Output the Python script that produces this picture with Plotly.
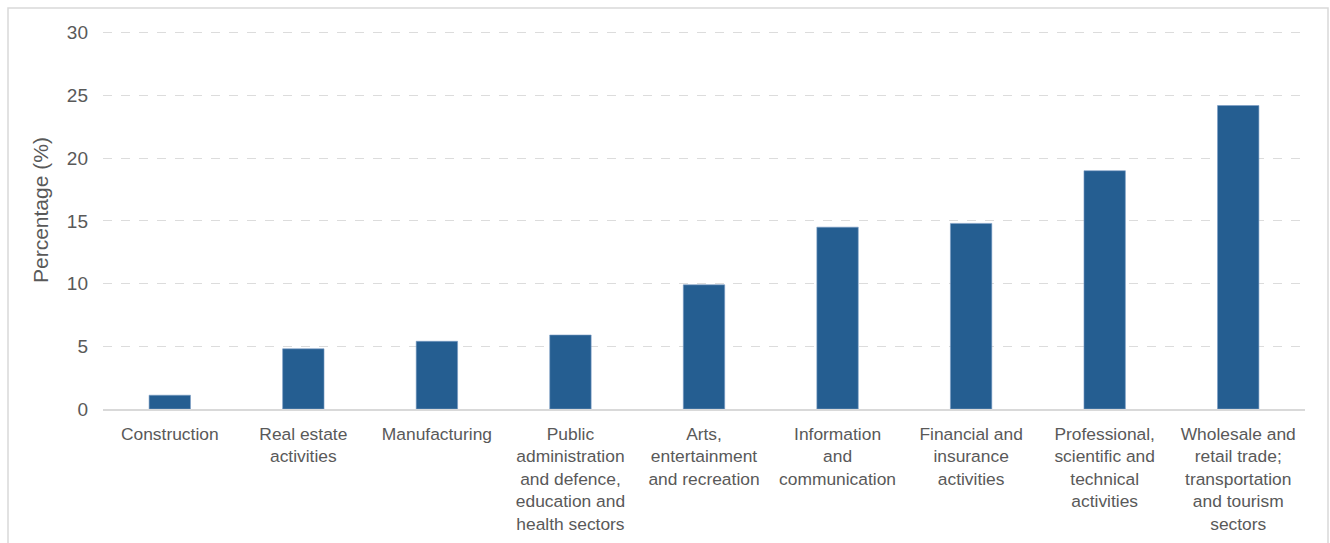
import plotly.graph_objects as go

categories = [
    "Construction",
    "Real estate<br>activities",
    "Manufacturing",
    "Public<br>administration<br>and defence,<br>education and<br>health sectors",
    "Arts,<br>entertainment<br>and recreation",
    "Information<br>and<br>communication",
    "Financial and<br>insurance<br>activities",
    "Professional,<br>scientific and<br>technical<br>activities",
    "Wholesale and<br>retail trade;<br>transportation<br>and tourism<br>sectors",
]
values = [1.1, 4.8, 5.4, 5.9, 9.9, 14.5, 14.8, 19.0, 24.2]
y_ticks = [0, 5, 10, 15, 20, 25, 30]

W, H = 1330, 543
ml, mr, mt, mb = 103, 25, 29, 134
pw, ph = W - ml - mr, H - mt - mb

fig = go.Figure(go.Bar(
    x=categories, y=values,
    marker=dict(color="#255E91", line=dict(color="#7a9cc4", width=0.6)),
    width=0.31,
))

fig.update_layout(
    width=W, height=H,
    margin=dict(l=ml, r=mr, t=mt, b=mb, autoexpand=False),
    paper_bgcolor="white", plot_bgcolor="white",
    font=dict(family="Liberation Sans, Arial, sans-serif", color="#595959"),
    showlegend=False,
    shapes=[dict(
        type="rect", xref="paper", yref="paper",
        x0=(8 - ml) / pw, x1=(1328 - ml) / pw,
        y0=-(H + 20 - mt - ph) / ph, y1=(H - 8 - mb) / ph,
        line=dict(color="#d9d9d9", width=1.5), fillcolor="rgba(0,0,0,0)",
        layer="below",
    )],
    annotations=[dict(
        text="Percentage (%)", textangle=-90, showarrow=False,
        xref="paper", yref="paper",
        x=(40 - ml) / pw, y=(H - mb - 210) / ph,
        xanchor="center", yanchor="middle",
        font=dict(size=21, color="#595959"),
    )],
)
fig.update_xaxes(
    automargin=False,
    tickfont=dict(size=17.4, color="#595959"),
    showline=True, linecolor="#d9d9d9", linewidth=1.5,
    showgrid=False, ticks="", ticklabelstandoff=8,
)
fig.update_yaxes(
    automargin=False,
    range=[0, 30.3], tickvals=y_ticks,
    tickfont=dict(size=19, color="#595959"),
    showgrid=True, gridcolor="#dcdcdc", griddash="dash", gridwidth=1,
    zeroline=False, showline=False, ticks="", ticklabelstandoff=14,
)

fig.write_html("out.html")
